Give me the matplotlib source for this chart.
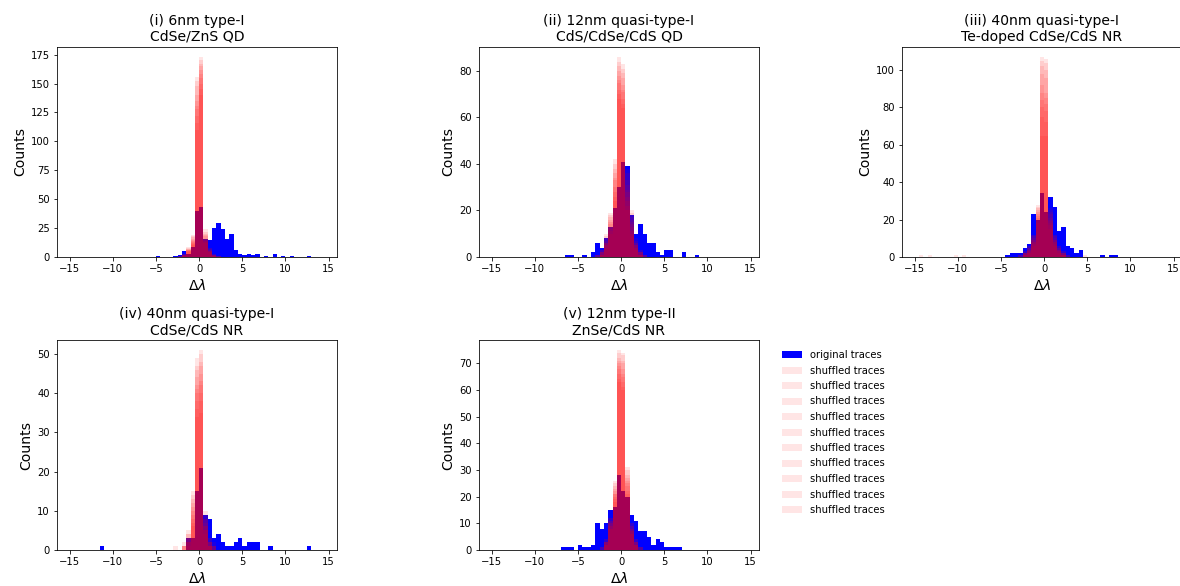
import numpy as np
import matplotlib
matplotlib.use("Agg")
from matplotlib import pyplot as plt

BIN_W = 0.5
EDGES = np.arange(-15, 15, BIN_W)  # same bins as the original hist call

titles = [
    "(i) 6nm type-I\nCdSe/ZnS QD",
    "(ii) 12nm quasi-type-I\nCdS/CdSe/CdS QD",
    "(iii) 40nm quasi-type-I\nTe-doped CdSe/CdS NR",
    "(iv) 40nm quasi-type-I\nCdSe/CdS NR",
    "(v) 12nm type-II\nZnSe/CdS NR",
]

# original traces: left bin edge -> count
orig_left_1 = [-5, -3, -2.5, -2, -1.5, -1, -0.5, 0, 0.5, 1, 1.5, 2, 2.5, 3, 3.5, 4, 4.5, 5, 5.5, 6, 6.5, 7.5, 8.5, 9.5, 10.5, 12.5]
orig_count_1 = [1, 1, 2, 5, 3, 9, 40, 43, 16, 15, 25, 29, 24, 16, 20, 6, 3, 2, 3, 2, 3, 1, 3, 1, 1, 1]

orig_left_2 = [-6.5, -6, -4.5, -3.5, -3, -2.5, -2, -1.5, -1, -0.5, 0, 0.5, 1, 1.5, 2, 2.5, 3, 3.5, 4, 4.5, 5, 5.5, 7, 8.5]
orig_count_2 = [1, 1, 1, 2, 6, 4, 8, 13, 21, 30, 41, 39, 18, 10, 14, 10, 6, 6, 2, 1, 3, 3, 2, 1]

orig_left_3 = [-4.5, -4, -3.5, -3, -2.5, -2, -1.5, -1, -0.5, 0, 0.5, 1, 1.5, 2, 2.5, 3, 3.5, 4, 6.5, 7.5, 8]
orig_count_3 = [1, 2, 2, 2, 5, 7, 23, 20, 34, 24, 32, 27, 14, 16, 6, 5, 2, 4, 1, 1, 1]

orig_left_4 = [-11.5, -1.5, -1, -0.5, 0, 0.5, 1, 1.5, 2, 2.5, 3, 3.5, 4, 4.5, 5, 5.5, 6, 6.5, 8, 12.5]
orig_count_4 = [1, 3, 3, 15, 21, 9, 8, 3, 4, 2, 1, 1, 2, 3, 1, 2, 2, 2, 1, 1]

orig_left_5 = [-7, -6.5, -6, -5, -4.5, -4, -3.5, -3, -2.5, -2, -1.5, -1, -0.5, 0, 0.5, 1, 1.5, 2, 2.5, 3, 3.5, 4, 4.5, 5, 5.5, 6, 6.5]
orig_count_5 = [1, 1, 1, 2, 1, 1, 2, 10, 8, 10, 15, 16, 28, 22, 20, 13, 11, 7, 7, 5, 2, 4, 3, 1, 1, 1, 1]

# shuffled traces: one row per shuffle, consecutive bins from shuf_start
shuf_start_1 = -2.5
shuf_1 = [
    [1, 3, 9, 19, 156, 173, 24, 8, 3, 1],
    [0, 2, 6, 14, 135, 158, 16, 5, 1, 0],
    [1, 1, 5, 12, 122, 150, 14, 4, 2, 0],
    [0, 2, 7, 16, 148, 165, 20, 6, 2, 1],
    [0, 3, 4, 11, 110, 145, 13, 5, 1, 0],
    [1, 1, 8, 18, 140, 170, 22, 7, 3, 1],
    [0, 2, 6, 13, 128, 155, 18, 6, 2, 0],
    [0, 2, 5, 15, 116, 140, 12, 4, 1, 0],
    [1, 1, 7, 10, 152, 162, 19, 8, 2, 1],
    [0, 3, 6, 17, 131, 167, 15, 5, 1, 0],
]

shuf_start_2 = -3
shuf_2 = [
    [1, 3, 10, 19, 42, 86, 83, 38, 20, 8, 3, 1],
    [0, 2, 6, 14, 33, 78, 74, 28, 14, 5, 2, 0],
    [1, 1, 4, 12, 28, 72, 68, 24, 11, 4, 1, 0],
    [0, 2, 8, 16, 38, 82, 79, 33, 17, 6, 2, 1],
    [0, 3, 5, 10, 24, 68, 64, 20, 9, 3, 1, 0],
    [1, 1, 9, 18, 40, 84, 81, 36, 19, 7, 3, 1],
    [0, 2, 6, 13, 30, 75, 71, 26, 13, 5, 2, 0],
    [0, 2, 5, 11, 26, 70, 66, 22, 10, 4, 1, 0],
    [1, 1, 7, 17, 36, 80, 77, 31, 16, 6, 2, 1],
    [0, 3, 6, 15, 34, 76, 72, 29, 15, 5, 1, 0],
]

shuf_start_3 = -3
shuf_3 = [
    [1, 3, 6, 12, 28, 107, 106, 26, 12, 6, 3, 1],
    [0, 2, 4, 9, 23, 92, 88, 20, 9, 4, 2, 0],
    [0, 1, 2, 7, 20, 75, 72, 17, 7, 3, 1, 0],
    [1, 2, 5, 11, 26, 102, 100, 24, 11, 5, 2, 1],
    [0, 1, 2, 6, 18, 65, 65, 15, 6, 2, 1, 0],
    [0, 3, 6, 12, 27, 105, 104, 25, 12, 6, 3, 0],
    [0, 2, 4, 9, 22, 88, 85, 19, 9, 4, 2, 0],
    [0, 1, 3, 8, 21, 80, 78, 18, 8, 3, 1, 0],
    [1, 2, 5, 10, 25, 98, 96, 23, 10, 5, 2, 1],
    [0, 2, 3, 8, 24, 84, 82, 21, 8, 4, 1, 0],
]
# a few single far-off counts in some shuffles of panel (iii)
stray_left_3 = [-14.5, -13.5, -10.5, -9.5, 4.5]
stray_run_3 = [0, 3, 5, 7, 2]

shuf_start_4 = -3
shuf_4 = [
    [1, 0, 2, 5, 15, 49, 51, 10, 3, 2],
    [0, 0, 1, 3, 10, 42, 45, 7, 2, 1],
    [0, 0, 0, 2, 8, 38, 40, 5, 1, 0],
    [0, 0, 1, 4, 12, 46, 48, 8, 2, 1],
    [0, 0, 0, 1, 6, 34, 35, 4, 1, 0],
    [0, 0, 1, 4, 14, 47, 50, 9, 3, 1],
    [0, 0, 0, 2, 9, 40, 43, 6, 2, 0],
    [0, 0, 1, 3, 7, 36, 38, 5, 1, 0],
    [0, 0, 1, 3, 13, 44, 47, 8, 2, 1],
    [0, 0, 0, 2, 11, 41, 42, 6, 1, 0],
]

shuf_start_5 = -2.5
shuf_5 = [
    [1, 4, 12, 26, 75, 74, 31, 10, 4, 1],
    [0, 3, 9, 21, 68, 66, 24, 7, 3, 0],
    [0, 2, 8, 19, 64, 61, 21, 6, 2, 0],
    [1, 3, 11, 24, 72, 71, 28, 9, 3, 1],
    [0, 2, 8, 18, 63, 60, 20, 6, 2, 0],
    [0, 4, 12, 25, 74, 73, 30, 10, 4, 1],
    [0, 3, 10, 22, 70, 68, 26, 8, 3, 0],
    [0, 2, 9, 20, 66, 63, 22, 7, 2, 0],
    [1, 3, 11, 23, 71, 70, 27, 9, 3, 1],
    [0, 3, 10, 21, 69, 65, 25, 8, 2, 0],
]


def to_bins(left, counts):
    out = np.zeros(len(EDGES) - 1)
    idx = np.round((np.asarray(left, dtype=float) - EDGES[0]) / BIN_W).astype(int)
    out[idx] += counts
    return out


def shuffled_bins(start, rows, stray_left=(), stray_run=()):
    res = []
    for k, row in enumerate(rows):
        left = start + BIN_W * np.arange(len(row))
        b = to_bins(left, row)
        for sl, sr in zip(stray_left, stray_run):
            if sr == k:
                b += to_bins([sl], [1])
        res.append(b)
    return res


panels = [
    (orig_left_1, orig_count_1, shuffled_bins(shuf_start_1, shuf_1)),
    (orig_left_2, orig_count_2, shuffled_bins(shuf_start_2, shuf_2)),
    (orig_left_3, orig_count_3, shuffled_bins(shuf_start_3, shuf_3, stray_left_3, stray_run_3)),
    (orig_left_4, orig_count_4, shuffled_bins(shuf_start_4, shuf_4)),
    (orig_left_5, orig_count_5, shuffled_bins(shuf_start_5, shuf_5)),
]

W, H = 1180, 586
fig = plt.figure(figsize=(W / 72, H / 72), dpi=72)

# axes boxes in pixels: left, top
boxes = [(57, 47), (479, 47), (902, 47), (57, 340), (479, 340)]
AX_W, AX_H = 280, 210

for i, (left, counts, shufs) in enumerate(panels):
    x0, top = boxes[i]
    ax = fig.add_axes([x0 / W, (H - top - AX_H) / H, AX_W / W, AX_H / H])
    ax.stairs(to_bins(left, counts), EDGES, fill=True, color="blue",
              linewidth=0, label="original traces")
    for s in shufs:
        ax.stairs(s, EDGES, fill=True, color="red", alpha=0.1,
                  linewidth=0, label="shuffled traces")
    ax.set_xlim(EDGES[0] - 0.05 * (EDGES[-1] - EDGES[0]),
                EDGES[-1] + 0.05 * (EDGES[-1] - EDGES[0]))
    ax.set_title(titles[i], fontsize=14)
    ax.set_xlabel(r"$\Delta\lambda$", fontsize=14)
    ax.set_ylabel("Counts", fontsize=14)
    ax.tick_params(labelsize=10)
    if i == 4:
        handles, labels = ax.get_legend_handles_labels()

fig.legend(handles, labels, loc="upper left", frameon=False, fontsize=10,
           labelspacing=0.55, bbox_to_anchor=(773 / W, 1 - 341 / H))

fig.savefig("out.png", dpi=72)
